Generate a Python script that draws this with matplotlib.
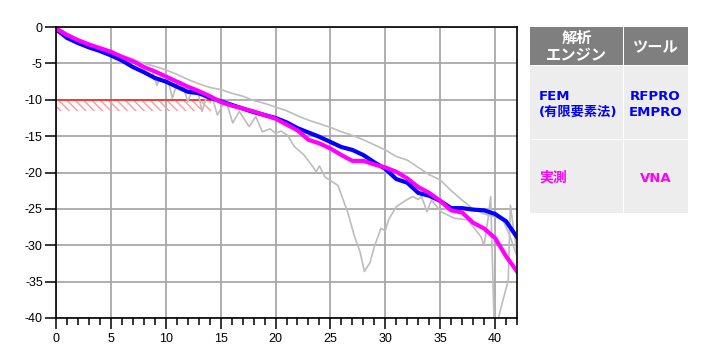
import matplotlib
matplotlib.use("Agg")
import matplotlib.pyplot as plt
from matplotlib.patches import Rectangle
from matplotlib.ticker import MultipleLocator

plt.rcParams['axes.unicode_minus'] = False

# ---- data ----
fem_x = [0, 1, 2, 3, 4, 5, 6, 7, 8, 9, 10, 11, 12, 13, 14, 15, 16, 17, 18, 19, 20,
         21, 22, 23, 24, 25, 26, 27, 28, 29, 30, 31, 32, 33, 34, 35, 36, 37, 38, 39,
         40, 41, 42]
fem_y = [-0.3, -1.5, -2.2, -2.8, -3.3, -3.9, -4.6, -5.5, -6.2, -7.0, -7.5, -8.2, -8.9,
         -9.1, -9.7, -10.2, -10.7, -11.2, -11.7, -12.1, -12.5, -13.1, -13.9, -14.5,
         -15.1, -15.8, -16.5, -16.9, -17.6, -18.6, -19.5, -20.9, -21.4, -22.8, -23.2,
         -23.9, -24.9, -24.9, -25.1, -25.2, -25.7, -26.7, -28.9]

vna_x = [0, 1, 2, 3, 4, 5, 6, 7, 8, 9, 10, 11, 12, 13, 14, 15, 16, 17, 18, 19, 20,
         21, 22, 23, 24, 25, 26, 27, 28, 29, 30, 31, 32, 33, 34, 35, 36, 37, 38, 39,
         40, 41, 42]
vna_y = [-0.2, -1.1, -1.8, -2.4, -2.9, -3.4, -4.1, -4.7, -5.5, -6.1, -6.8, -7.5, -8.2,
         -8.8, -9.5, -10.3, -10.8, -11.2, -11.6, -12.1, -12.6, -13.4, -14.2, -15.5,
         -16.0, -16.7, -17.6, -18.4, -18.4, -18.9, -19.3, -19.9, -20.8, -22.0, -22.8,
         -23.9, -25.2, -25.5, -26.9, -27.7, -29.0, -31.5, -33.6]

ref1_x = [0, 1, 2, 3, 4, 5, 6, 7, 8, 9, 10, 11, 12, 13, 14, 15, 16, 17, 18, 19, 20,
          21, 22, 23, 24, 25, 26, 27, 28, 29, 30, 31, 32, 33, 34, 35, 36, 37, 38, 39,
          40, 40.7, 41.3, 42]
ref1_y = [0, -0.9, -1.7, -2.3, -2.9, -3.4, -3.9, -4.4, -5.0, -5.4, -5.9, -6.5, -7.2,
          -7.8, -8.3, -8.6, -9.1, -9.5, -10.1, -10.5, -11.0, -11.5, -12.2, -12.8,
          -13.3, -13.8, -14.4, -14.9, -15.5, -16.2, -16.9, -17.8, -18.3, -19.3, -20.3,
          -21.0, -22.5, -23.8, -25.0, -25.7, -26.1, -26.5, -28.5, -31.5]

ref2_x = [0, 1, 2, 3, 4, 5, 6, 7, 7.5, 8.0, 8.7, 9.2, 9.6, 10.1, 10.6, 11.1, 11.5, 12.0,
          12.5, 12.9, 13.3, 13.8, 14.2, 14.7, 15.2, 15.6, 16.1, 16.7, 17.6, 18.2, 18.8,
          19.5, 20.0, 20.5, 21.1, 21.7, 22.6, 23.4, 23.7, 24.0, 24.5, 25.1, 25.7, 26.6,
          27.2, 27.7, 28.1, 28.6, 29.0, 29.6, 30.0, 30.3, 31.0, 31.9, 32.5, 33.0, 33.3,
          33.8, 34.2, 35.1, 36.3, 37.5, 38.7, 39.0, 39.4, 39.6, 39.9, 40.3, 41.2, 41.4,
          41.7, 42.0]
ref2_y = [0, -0.9, -1.7, -2.3, -2.9, -3.4, -3.9, -4.5, -4.9, -5.3, -5.8, -8.0, -6.5,
          -6.6, -9.8, -7.4, -7.6, -10.3, -8.3, -8.6, -11.6, -9.2, -9.5, -12.1, -10.7,
          -10.7, -13.2, -11.6, -13.7, -12.3, -14.4, -14.0, -14.6, -14.3, -14.9, -16.4,
          -17.6, -19.2, -19.9, -19.1, -20.6, -21.2, -21.8, -25.6, -28.8, -30.9, -33.6,
          -32.4, -30.2, -27.7, -28.0, -26.5, -24.7, -23.8, -23.3, -23.7, -23.3, -25.4,
          -23.8, -25.4, -26.3, -26.5, -28.8, -30.0, -26.0, -23.3, -40.0, -40.0, -34.8,
          -24.5, -28.0, -31.0]

limit_x = [0, 14.1]
limit_top = -10
limit_bottom = -11.6

xticks = [0, 5, 10, 15, 20, 25, 30, 35, 40]
yticks = [0, -5, -10, -15, -20, -25, -30, -35, -40]

hdr_col1 = "解析\nエンジン"
hdr_col2 = "ツール"
row1 = ("FEM\n(有限要素法)", "RFPRO\nEMPRO")
row2 = ("実測", "VNA")

# ---- figure ----
fig = plt.figure(figsize=(7.08, 3.63), dpi=100)
W, H = 708, 363
ax = fig.add_axes([56 / W, 1 - 318 / H, (517 - 56) / W, (318 - 27) / H])

gridc = '#a8a8a8'
ax.vlines(xticks, -40, 0, colors=gridc, linewidth=1.3, zorder=1)
ax.hlines(yticks, 0, 42, colors=gridc, linewidth=1.3, zorder=1)

grey = '#bdbdbd'
ax.fill_between(limit_x, limit_top, limit_bottom, facecolor='none', edgecolor='#ff9a9a',
                hatch='\\\\\\\\', linewidth=0, zorder=1.5)
ax.plot(limit_x, [limit_top, limit_top], color='#ff2020', lw=1.1, zorder=1.6)
ax.plot(ref2_x, ref2_y, color=grey, lw=1.2, zorder=2)
ax.plot(ref1_x, ref1_y, color=grey, lw=1.2, zorder=2)
ax.plot(fem_x, fem_y, color='#0000ff', lw=3.0, zorder=3)
ax.plot(vna_x, vna_y, color='#ff00ff', lw=3.0, zorder=4)

ax.set_xlim(0, 42)
ax.set_ylim(-40, 0)
ax.set_xticks(xticks)
ax.set_yticks(yticks)
ax.xaxis.set_minor_locator(MultipleLocator(1))
for s in ax.spines.values():
    s.set_color('black')
    s.set_linewidth(1.2)
    s.set_zorder(5)
ax.tick_params(which='major', direction='out', length=8, width=1.1, color='black',
               labelsize=9)
ax.tick_params(which='minor', direction='out', length=5, width=1.1, color='black')
ax.tick_params(axis='y', pad=1.5)
ax.tick_params(axis='x', pad=3)
for lab in ax.get_xticklabels() + ax.get_yticklabels():
    lab.set_family(['Liberation Sans', 'DejaVu Sans'])

# ---- legend table ----
ov = fig.add_axes([0, 0, 1, 1], zorder=-1)
ov.set_xlim(0, W)
ov.set_ylim(H, 0)
ov.axis('off')

c1 = (530, 623.3)
c2 = (624.3, 687.5)
rh = (27.3, 65)
r1 = (66, 138.5)
r2 = (139.5, 212.7)
for (x0, x1) in (c1, c2):
    ov.add_patch(Rectangle((x0, rh[0]), x1 - x0, rh[1] - rh[0], color='#7f7f7f', lw=0))
    for (y0, y1) in (r1, r2):
        ov.add_patch(Rectangle((x0, y0), x1 - x0, y1 - y0, color='#ededed', lw=0))

fam = ['DejaVu Sans', 'Noto Sans CJK JP']
cjk = ['Noto Sans CJK JP', 'DejaVu Sans']
ov.text(576.6, 46.5, hdr_col1, ha='center', va='center', color='white', fontsize=11,
        fontweight='bold', family=cjk, linespacing=1.05)
ov.text(655.8, 47.5, hdr_col2, ha='center', va='center', color='white', fontsize=11,
        fontweight='bold', family=cjk)
ov.text(539, 104.5, row1[0], ha='left', va='center', color='#0000ff', fontsize=9.5,
        fontweight='bold', family=fam, linespacing=1.25)
ov.text(655.5, 104.5, row1[1], ha='center', va='center', color='#0000ff', fontsize=9.5,
        fontweight='bold', family=fam, linespacing=1.25, multialignment='center')
ov.text(539, 178, row2[0], ha='left', va='center', color='#ff00ff', fontsize=10,
        fontweight='bold', family=cjk)
ov.text(655.5, 178, row2[1], ha='center', va='center', color='#ff00ff', fontsize=9.5,
        fontweight='bold', family=fam)

fig.savefig('out.png', dpi=100)
